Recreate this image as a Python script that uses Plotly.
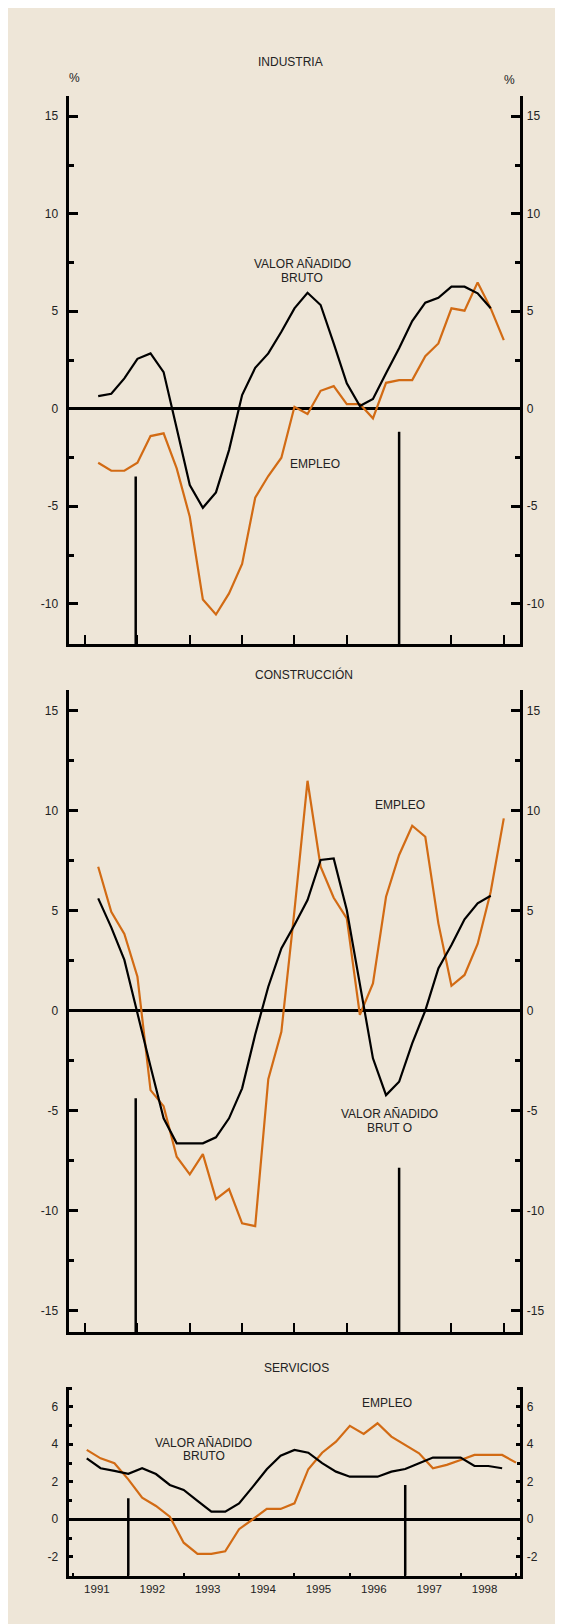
import plotly.graph_objects as go

# ---------------- data ----------------
years = [1991, 1992, 1993, 1994, 1995, 1996, 1997, 1998]
quarters = [1, 2, 3, 4]
# quarterly observations plotted at the end of each quarter
x_q = [y + q / 4 for y in years for q in quarters]
year_ticks = years + [1999]
year_labels = ["1991", "1992", "1993", "1994", "1995", "1996", "1997", "1998", ""]

ind_empleo = [-2.77, -3.18, -3.18, -2.77, -1.40, -1.26, -3.06, -5.54, -9.78, -10.55, -9.47, -7.96,
              -4.56, -3.45, -2.51, 0.10, -0.27, 0.92, 1.16, 0.24, 0.24, -0.49, 1.33, 1.47,
              1.47, 2.70, 3.35, 5.15, 5.03, 6.48, 5.15, 3.52]
ind_vab = [0.65, 0.77, 1.56, 2.56, 2.84, 1.88, -1.0, -3.91, -5.08, -4.29, -2.12, 0.70,
           2.10, 2.84, 3.95, 5.15, 5.95, 5.32, 3.35, 1.30, 0.14, 0.50, 1.82, 3.10,
           4.50, 5.44, 5.69, 6.26, 6.26, 5.92, 5.15]

con_empleo = [7.19, 4.94, 3.83, 1.69, -3.98, -4.78, -7.31, -8.19, -7.18, -9.43, -8.93, -10.64,
              -10.78, -3.43, -1.06, 5.0, 11.49, 7.19, 5.64, 4.61, -0.22, 1.36, 5.69, 7.78,
              9.24, 8.69, 4.36, 1.24, 1.78, 3.33, 5.94, 9.61]
con_vab = [5.61, 4.16, 2.53, -0.2, -2.8, -5.39, -6.64, -6.64, -6.64, -6.34, -5.39, -3.89,
           -1.2, 1.19, 3.11, 4.28, 5.53, 7.53, 7.61, 5.03, 1.4, -2.39, -4.23, -3.56,
           -1.64, 0.0, 2.11, 3.28, 4.56, 5.36, 5.74]

ser_empleo = [3.70, 3.25, 2.99, 2.13, 1.15, 0.71, 0.14, -1.25, -1.85, -1.85, -1.71, -0.53,
              0.0, 0.55, 0.55, 0.85, 2.67, 3.55, 4.14, 4.98, 4.55, 5.12, 4.41, 3.96,
              3.52, 2.72, 2.90, 3.16, 3.43, 3.43, 3.43, 3.02]
ser_vab = [3.25, 2.72, 2.58, 2.42, 2.72, 2.41, 1.83, 1.56, 0.98, 0.41, 0.41, 0.85,
           1.74, 2.67, 3.39, 3.70, 3.55, 2.99, 2.54, 2.27, 2.27, 2.27, 2.54, 2.68,
           2.99, 3.29, 3.29, 3.29, 2.84, 2.84, 2.72]

# vertical marker lines (x position, top value)
ind_vline_x = [1991.967, 1997.0]
ind_vline_top = [-3.48, -1.18]
con_vline_x = [1991.967, 1997.0]
con_vline_top = [-4.39, -7.86]
ser_vline_x = [1992.0, 1997.0]
ser_vline_top = [1.12, 1.83]

ind_yticks = [-10, -5, 0, 5, 10, 15]
con_yticks = [-15, -10, -5, 0, 5, 10, 15]
ser_yticks = [-2, 0, 2, 4, 6]

# ---------------- style ----------------
W, H = 563, 1624
OFF = 8  # page margin around the figure
BG = "#EEE6D8"
ORANGE = "#D26B14"
TXT = "#222222"
FONT = "Liberation Sans, Arial, sans-serif"
XDOM = [(69.3 - OFF) / W, (519.6 - OFF) / W]

def ydom(top_px, bot_px):
    return [1 - (bot_px - OFF) / H, 1 - (top_px - OFF) / H]

def px(x):
    return (x - OFF) / W

def py(y):
    return 1 - (y - OFF) / H

panels = [
    dict(xa="x", ya="y", yb="y2", emp=ind_empleo, vab=ind_vab, vx=ind_vline_x, vt=ind_vline_top,
         xr=[1990.698, 1999.302], yr=[-12.08, 16.04], yt=ind_yticks, minor=2.5,
         tl=9, mtl=5, xtl=10, dom=ydom(96, 644.3), labels=False),
    dict(xa="x2", ya="y3", yb="y4", emp=con_empleo, vab=con_vab, vx=con_vline_x, vt=con_vline_top,
         xr=[1990.698, 1999.302], yr=[-16.09, 16.03], yt=con_yticks, minor=2.5,
         tl=9, mtl=5, xtl=10, dom=ydom(690, 1332.3), labels=False),
    dict(xa="x3", ya="y5", yb="y6", emp=ser_empleo, vab=ser_vab, vx=ser_vline_x, vt=ser_vline_top,
         xr=[1990.935, 1999.065], yr=[-3.01, 7.07], yt=ser_yticks, minor=1,
         tl=4, mtl=2.5, xtl=2.5, dom=ydom(1386.7, 1575.7), labels=True),
]

fig = go.Figure()
layout = {}

def axname(ref):
    return ref.replace("x", "xaxis").replace("y", "yaxis")

for p in panels:
    # vertical marker lines (on the right-hand axis so that it gets drawn; same range)
    for vx, vt in zip(p["vx"], p["vt"]):
        fig.add_trace(go.Scatter(x=[vx, vx], y=[vt, p["yr"][0]], mode="lines",
                                 line=dict(color="black", width=2.5),
                                 xaxis=p["xa"], yaxis=p["yb"], showlegend=False, hoverinfo="skip"))
    fig.add_trace(go.Scatter(x=x_q[:len(p["emp"])], y=p["emp"], mode="lines",
                             line=dict(color=ORANGE, width=2.2),
                             xaxis=p["xa"], yaxis=p["ya"], showlegend=False, name="EMPLEO"))
    fig.add_trace(go.Scatter(x=x_q[:len(p["vab"])], y=p["vab"], mode="lines",
                             line=dict(color="black", width=2.2),
                             xaxis=p["xa"], yaxis=p["ya"], showlegend=False, name="VAB"))

    ytext = [str(v) for v in p["yt"]]
    common_y = dict(range=p["yr"], anchor=p["xa"], showline=True,
                    linecolor="black", linewidth=2.5, ticks="inside", ticklen=p["tl"],
                    tickwidth=2.5, tickcolor="black", tickvals=p["yt"], ticktext=ytext,
                    minor=dict(ticks="inside", ticklen=p["mtl"], tickwidth=2.5, tickcolor="black",
                               tick0=0, dtick=p["minor"]),
                    showgrid=False, tickfont=dict(size=12, color=TXT, family=FONT),
                    fixedrange=True)
    layout[axname(p["ya"])] = dict(common_y, domain=p["dom"], side="left", zeroline=True,
                                   zerolinecolor="black", zerolinewidth=2.5, ticklabelstandoff=6)
    layout[axname(p["yb"])] = dict(common_y, side="right", overlaying=p["ya"], zeroline=False,
                                   ticklabelstandoff=2)
    xax = dict(domain=XDOM, range=p["xr"], anchor=p["ya"], showline=True, linecolor="black",
               linewidth=2.5, ticks="inside", ticklen=p["xtl"], tickwidth=2.3, tickcolor="black",
               tickvals=year_ticks, showgrid=False, zeroline=False, fixedrange=True,
               showticklabels=p["labels"])
    if p["labels"]:
        xax.update(ticktext=year_labels, ticklabelshift=24, ticklabelstandoff=1,
                   tickfont=dict(size=11.5, color=TXT, family=FONT))
    layout[axname(p["xa"])] = xax

def ann(text, x, y, xref="paper", yref="paper", size=12):
    return dict(text=text, x=x, y=y, xref=xref, yref=yref, showarrow=False,
                xanchor="center", yanchor="middle", font=dict(size=size, color=TXT, family=FONT))

annotations = [
    ann("INDUSTRIA", px(290.1), py(61.7)),
    ann("%", px(74.3), py(78.3)),
    ann("%", px(509.2), py(80)),
    ann("VALOR AÑADIDO", 1995.15, 7.40, "x", "y"),
    ann("BRUTO", 1995.15, 6.73, "x", "y"),
    ann("EMPLEO", 1995.39, -2.85, "x", "y"),
    ann("CONSTRUCCIÓN", px(304.1), py(674.3)),
    ann("EMPLEO", 1997.02, 10.28, "x2", "y3"),
    ann("VALOR AÑADIDO", 1996.82, -5.19, "x2", "y3"),
    ann("BRUT O", 1996.82, -5.86, "x2", "y3"),
    ann("SERVICIOS", px(296.2), py(1368.3)),
    ann("EMPLEO", 1996.67, 6.19, "x3", "y5"),
    ann("VALOR AÑADIDO", 1993.36, 4.06, "x3", "y5"),
    ann("BRUTO", 1993.36, 3.36, "x3", "y5"),
]

fig.update_layout(width=W, height=H, margin=dict(l=0, r=0, t=0, b=0),
                  paper_bgcolor=BG, plot_bgcolor="rgba(0,0,0,0)",
                  font=dict(family=FONT, color=TXT), showlegend=False,
                  annotations=annotations, **layout)

fig.write_html("out.html")
